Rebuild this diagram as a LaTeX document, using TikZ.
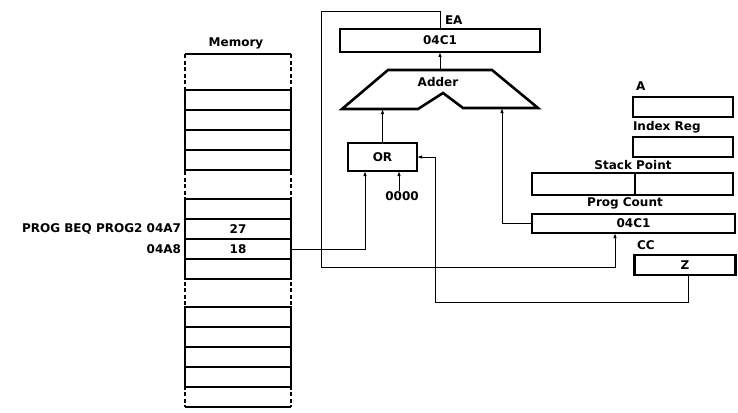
\documentclass[tikz,border=0pt]{standalone}
\usepackage{fontspec}
\setmainfont{DejaVu Sans}
\usetikzlibrary{arrows.meta}
\begin{document}
\begin{tikzpicture}[x=1pt,y=-1pt,
  every node/.style={font=\fontsize{12}{14}\selectfont\bfseries, inner sep=0pt, outer sep=0pt},
  txt/.style={},
  reg/.style={draw, line width=2.8pt, minimum width=#1, minimum height=20pt},
  cell/.style={draw, line width=2.2pt, minimum width=106pt, minimum height=20pt},
  conn/.style={line width=1pt},
  arr/.style={conn, -{Latex[length=5pt,width=3.5pt]}},
  memedge/.style={line width=2pt, dash pattern=on 4pt off 2.5pt}
]
\useasboundingbox (0,0) rectangle (738,412);

% ---------- Memory ----------
\node[txt] (memlbl) at (236,43) {Memory};
\draw[memedge] (185,54) -- (185,407);
\draw[memedge] (291,54) -- (291,407);
\draw[line width=2pt] (185,54) -- (291,54);
\draw[line width=2pt] (185,407) -- (291,407);
\foreach \y [count=\i] in {100,120,140,160} \node[cell] (ma\i) at (238,\y) {};
\node[cell] (mb1) at (238,209) {};
\node[cell] (mb2) at (238,229) {27};
\node[cell] (mb3) at (238,249) {18};
\node[cell] (mb4) at (238,269) {};
\foreach \y [count=\i] in {317,337,357,377} \node[cell] (mc\i) at (238,\y) {};
\node[txt, anchor=east] (lbl7) at (181,229) {PROG BEQ PROG2 04A7};
\node[txt, anchor=east] (lbl8) at (181,249) {04A8};

% ---------- EA and Adder ----------
\node[txt, anchor=west] (ealbl) at (445,20) {EA};
\node[reg=200pt, minimum height=23pt] (ea) at (440,40.5) {04C1};
\draw[line width=2.6pt, line join=miter]
  (342,109) -- (418,109) -- (443,93) -- (463,108) -- (538,108) -- (492,70) -- (388,70) -- cycle;
\node[txt] (addlbl) at (438,82) {Adder};
\coordinate (addT) at (440,70);
\coordinate (addL) at (382,109);
\coordinate (addR) at (502,108);

% ---------- OR ----------
\node[reg=69pt, minimum height=28pt] (or) at (382.5,157) {OR};
\node[txt] (zero) at (402,196) {0000};

% ---------- Registers ----------
\node[txt, anchor=west] (albl) at (636,86) {A};
\node[reg=100pt] (areg) at (683,107) {};
\node[txt, anchor=west] (ixlbl) at (633,127) {Index Reg};
\node[reg=100pt] (ix) at (683,147) {};
\node[txt] (splbl) at (633,165) {Stack Point};
\node[reg=201pt, minimum height=22pt] (sp) at (632.5,184) {};
\draw[line width=1.4pt] ([xshift=2.5pt]sp.north) -- ([xshift=2.5pt]sp.south);
\node[txt] (pclbl) at (625,203) {Prog Count};
\node[reg=203pt, minimum height=19pt] (pc) at (633.5,223.5) {04C1};
\node[txt, anchor=west] (cclbl) at (637,245) {CC};
\node[reg=101pt] (z) at (685,265) {Z};

% ---------- Connectors ----------
\coordinate (lpTL) at (321,12);
\coordinate (lpBL) at (321,267);
\coordinate (zc) at (435,302);

\draw[arr] (mb3.east) -| ([xshift=-17.5pt]or.south);
\draw[arr] ([xshift=-3pt]zero.north) -- ([xshift=-3pt]zero.north |- or.south);
\draw[arr] (or.north) -- (or.north |- addL);
\draw[arr] (pc.west) -| (addR);
\draw[arr] (addT) -- (ea.south);
\draw[arr] (ea.north) |- (lpTL) -- (lpBL) -| ([xshift=-18.5pt]pc.south);
\draw[arr] ([xshift=3pt]z.south) |- (zc) |- (or.east);
\end{tikzpicture}
\end{document}
